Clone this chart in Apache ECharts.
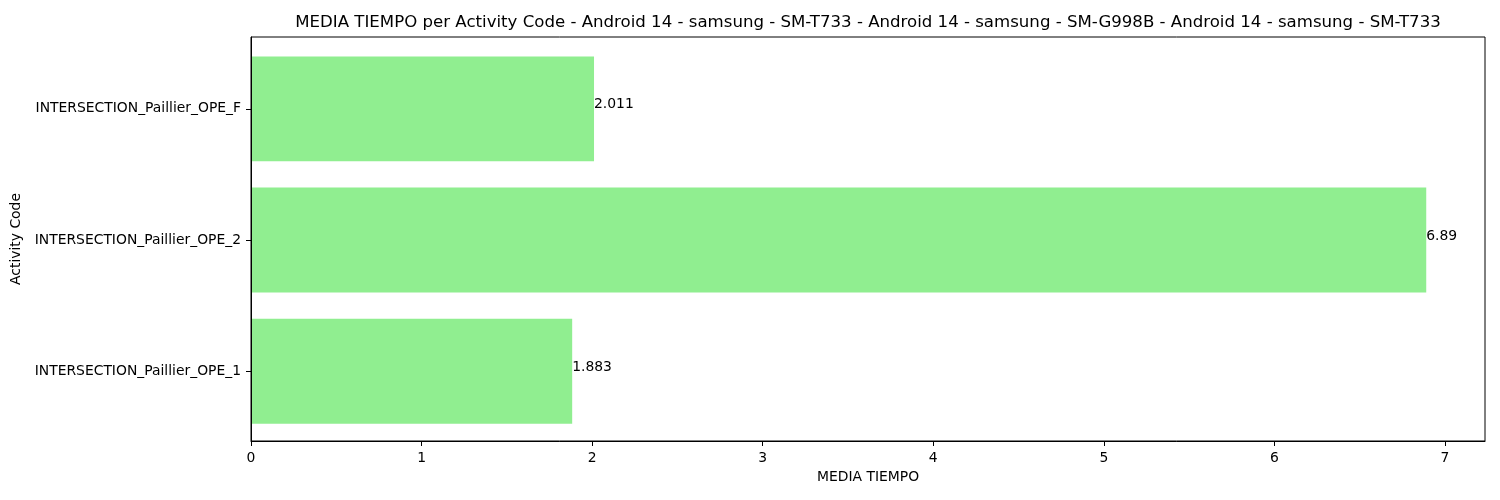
<!DOCTYPE html>
<html>
<head>
<meta charset="utf-8">
<script src="https://cdn.jsdelivr.net/npm/echarts@6/dist/echarts.min.js"></script>
<style>html,body{margin:0;padding:0;background:#fff;}#c{width:1500px;height:500px;}</style>
</head>
<body>
<div id="c"></div>
<script>
const categories = ['INTERSECTION_Paillier_OPE_1', 'INTERSECTION_Paillier_OPE_2', 'INTERSECTION_Paillier_OPE_F'];
const values = [1.883, 6.89, 2.011];
const valueLabels = ['1.883', '6.89', '2.011'];
const xTicks = [0, 1, 2, 3, 4, 5, 6, 7];
const titleText = 'MEDIA TIEMPO per Activity Code - Android 14 - samsung - SM-T733 - Android 14 - samsung - SM-G998B - Android 14 - samsung - SM-T733';

const FONT = 'DejaVu Sans';
const chart = echarts.init(document.getElementById('c'), null, {renderer: 'canvas'});
const data = values.map((v, i) => [v, i, valueLabels[i]]);

chart.setOption({
  backgroundColor: '#fff',
  animation: false,
  title: {
    text: titleText,
    left: 868,
    top: 14,
    padding: 0,
    textAlign: 'center',
    textStyle: {fontFamily: FONT, fontSize: 16.6, fontWeight: 'normal', color: '#000'}
  },
  grid: {left: 251, right: 15, top: 37, bottom: 59, show: true, borderColor: '#000', borderWidth: 1, containLabel: false},
  xAxis: {
    type: 'value', min: 0, max: 7.2345, interval: 1, z: 10,
    name: 'MEDIA TIEMPO', nameLocation: 'middle', nameGap: 29,
    nameTextStyle: {fontFamily: FONT, fontSize: 13.9, color: '#000'},
    axisLine: {show: true, onZero: false, lineStyle: {color: '#000', width: 1}},
    axisTick: {show: true, length: 5, lineStyle: {color: '#000'}, customValues: xTicks},
    axisLabel: {fontFamily: FONT, fontSize: 13.9, color: '#000', margin: 10, customValues: xTicks},
    splitLine: {show: false}
  },
  yAxis: {
    type: 'value', min: -0.532, max: 2.548, z: 10,
    name: 'Activity Code', nameLocation: 'middle', nameGap: 217,
    nameTextStyle: {fontFamily: FONT, fontSize: 13.9, color: '#000'},
    axisLine: {show: true, onZero: false, lineStyle: {color: '#000', width: 1}},
    axisTick: {show: true, length: 5, lineStyle: {color: '#000'}, customValues: [0, 1, 2]},
    axisLabel: {fontFamily: FONT, fontSize: 13.9, color: '#000', margin: 10, customValues: [0, 1, 2],
      padding: [2, 0, 0, 0],
      formatter: v => categories[Math.round(v)]},
    splitLine: {show: false}
  },
  series: [{
    type: 'custom',
    coordinateSystem: 'cartesian2d',
    encode: {x: 0, y: 1},
    z: 2,
    data: data,
    renderItem: function (params, api) {
      const v = api.value(0), idx = api.value(1);
      const p0 = api.coord([0, idx]);
      const p1 = api.coord([v, idx]);
      const h = api.size([0, 0.8])[1];
      return {
        type: 'group',
        children: [
          {type: 'rect', shape: {x: p0[0], y: p0[1] - h / 2, width: p1[0] - p0[0], height: h},
           style: {fill: '#90EE90'}},
          {type: 'text', x: p1[0], y: p1[1] + 3, style: {text: valueLabels[idx],
            fontFamily: FONT, fontSize: 13.9, fill: '#000', align: 'left', verticalAlign: 'bottom'}}
        ]
      };
    }
  }]
});
</script>
</body>
</html>
